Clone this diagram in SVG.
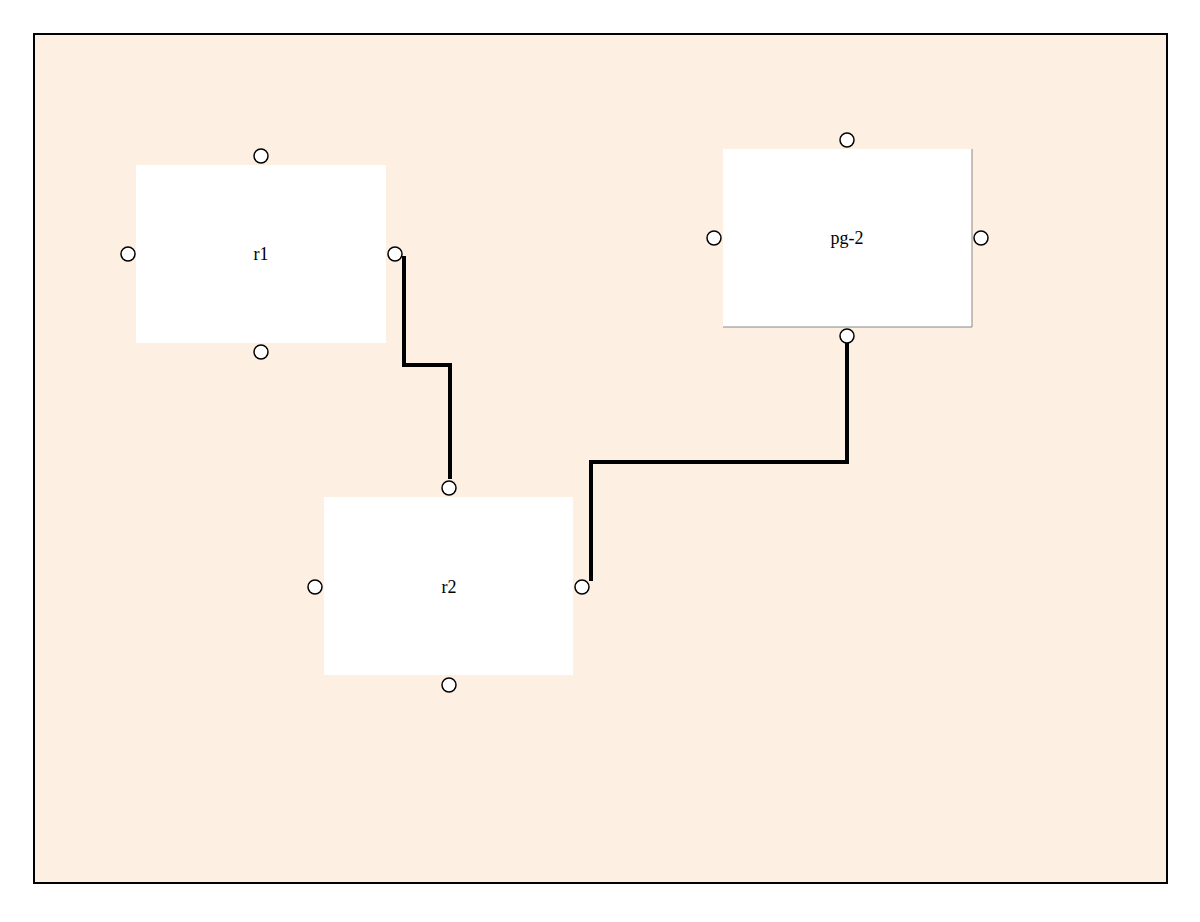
<svg xmlns="http://www.w3.org/2000/svg" width="1200" height="922" viewBox="0 0 1200 922">
<style>
.node{fill:#fff}
.port{fill:#fff;stroke:#000;stroke-width:1.5}
.lbl{font-family:"Liberation Serif",serif;font-size:18px;text-anchor:middle;dominant-baseline:central;fill:#000}
.conn{fill:none;stroke:#000;stroke-width:4}
</style>
<rect x="0" y="0" width="1200" height="922" fill="#fff"/>
<rect x="34" y="34" width="1133" height="849" fill="#fdefe1" stroke="#000" stroke-width="2"/>
<g id="r1">
<rect class="node" x="136" y="165" width="250" height="178"/>
<text class="lbl" x="261" y="254">r1</text>
<circle class="port" cx="261" cy="156" r="7"/><circle class="port" cx="128" cy="254" r="7"/>
<circle class="port" cx="395" cy="254" r="7"/><circle class="port" cx="261" cy="352" r="7"/>
</g>
<g id="r2">
<rect class="node" x="324" y="497" width="249" height="178"/>
<text class="lbl" x="449" y="587">r2</text>
<circle class="port" cx="449" cy="488" r="7"/><circle class="port" cx="315" cy="587" r="7"/>
<circle class="port" cx="582" cy="587" r="7"/><circle class="port" cx="449" cy="685" r="7"/>
</g>
<g id="pg-2">
<rect class="node" x="723" y="149" width="249" height="178"/>
<path d="M972 149V327H723" fill="none" stroke="#888" stroke-width="1"/>
<text class="lbl" x="847" y="238">pg-2</text>
<circle class="port" cx="847" cy="140" r="7"/><circle class="port" cx="714" cy="238" r="7"/>
<circle class="port" cx="981" cy="238" r="7"/><circle class="port" cx="847" cy="336" r="7"/>
</g>
<g id="connectors">
<polyline class="conn" points="404,256 404,365 450,365 450,479"/>
<polyline class="conn" points="847,343 847,462 591,462 591,581"/>
</g>
</svg>
